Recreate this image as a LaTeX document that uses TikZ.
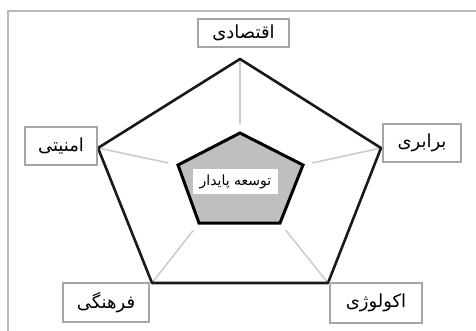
\documentclass[tikz,border=0pt]{standalone}
\usepackage{fontspec}
\usetikzlibrary{calc}
\TeXXeTstate=1
\newfontfamily\arabicfont[Script=Arabic]{DejaVu Sans}
\begin{document}
\begin{tikzpicture}[x=1pt,y=-1pt,
  lbl/.style={draw=gray!70,line width=1.3pt,fill=white,inner sep=0pt,font=\arabicfont\fontsize{18}{20}\selectfont},
  spoke/.style={draw=gray!40,line width=1.6pt},
  outerpent/.style={draw=black!90,line width=2.6pt,line join=round},
  innerpent/.style={draw=black,fill=gray!50,line width=3pt,line join=miter}]
\useasboundingbox (0,0) rectangle (476,331);
% frame
\draw[gray!55,line width=2pt] (8,331) -- (8,11) -- (476,11);
% outer vertices
\coordinate (o1) at (240,59);
\coordinate (o2) at (381,148);
\coordinate (o3) at (328,283);
\coordinate (o4) at (152,283);
\coordinate (o5) at (98,148);
% inner vertices
\coordinate (i1) at (240,133);
\coordinate (i2) at (303,165);
\coordinate (i3) at (280,223);
\coordinate (i4) at (199,223);
\coordinate (i5) at (178,165);
% spokes
\foreach \k in {1,...,5}{
  \draw[spoke] (o\k) -- ($(o\k)!0.88!(i\k)$);
}
\draw[outerpent] (o1) -- (o2) -- (o3) -- (o4) -- (o5) -- cycle;
\draw[innerpent] (i1) -- (i2) -- (i3) -- (i4) -- (i5) -- cycle;
% labels
\node[lbl,minimum width=91pt,minimum height=28pt] (eco) at (243.5,33) {\beginR اقتصادی\endR};
\node[lbl,minimum width=78pt,minimum height=38pt] (eq) at (422,143) {\beginR برابری\endR};
\node[lbl,minimum width=72pt,minimum height=38pt] (sec) at (61,146) {\beginR امنیتی\endR};
\node[lbl,minimum width=86pt,minimum height=39pt] (cul) at (106,302.5) {\beginR فرهنگی\endR};
\node[lbl,minimum width=92pt,minimum height=40pt] (ecol) at (376,303) {\beginR اکولوژی\endR};
\node[fill=white,inner sep=0pt,minimum width=85pt,minimum height=25pt,font=\arabicfont\fontsize{14}{16}\selectfont] (sd) at (235.5,181.5) {\beginR توسعه پایدار\endR};
\end{tikzpicture}
\end{document}
